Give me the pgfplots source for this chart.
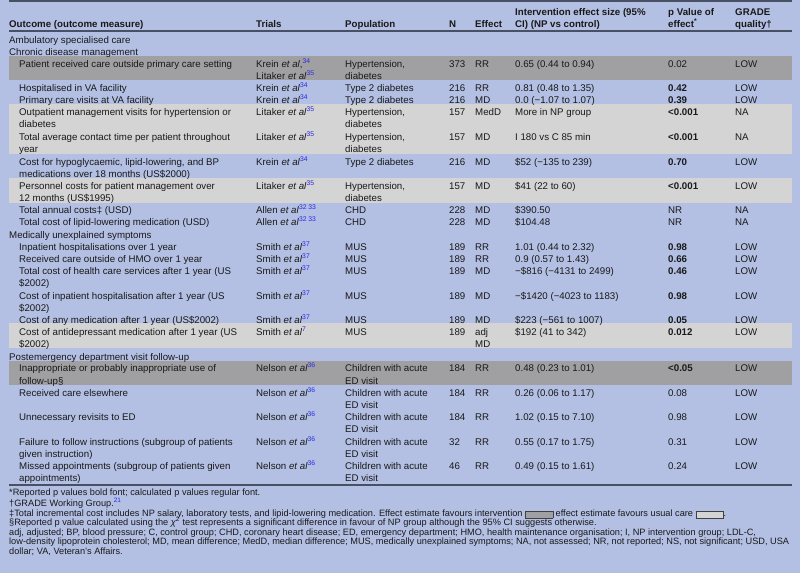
\documentclass[border=0pt]{standalone}
\usepackage{pgfplots}
\pgfplotsset{compat=1.18}
\usepackage{fontspec}
\setmainfont{Liberation Sans}
\definecolor{bg}{RGB}{179,192,227}
\definecolor{darkband}{RGB}{160,160,162}
\definecolor{lightband}{RGB}{212,212,212}
\definecolor{rulec}{RGB}{72,80,102}
\definecolor{txt}{RGB}{25,25,25}
\definecolor{refblue}{RGB}{40,40,230}
\newcommand{\bodyf}{\fontsize{9.7}{12}\selectfont}
\newcommand{\footf}{\fontsize{9.2}{10}\selectfont}
\newcommand{\ea}{\textit{et al}}
\newcommand{\rf}[1]{\textsuperscript{\textcolor{refblue}{#1}}}
\newcommand{\kbox}[1]{\raisebox{-1.5pt}{\setlength{\fboxsep}{0pt}\setlength{\fboxrule}{0.5pt}\fcolorbox{black!75}{#1}{\rule{0pt}{6.5pt}\rule{27pt}{0pt}}}}
\newcommand{\T}[3]{\node[anchor=base west,inner sep=0pt,font=\bodyf,text=txt] at (axis cs:#1,#2) {#3};}
\newcommand{\B}[3]{\node[anchor=base west,inner sep=0pt,font=\bodyf\bfseries,text=txt] at (axis cs:#1,#2) {#3};}
\newcommand{\F}[2]{\node[anchor=base west,inner sep=0pt,font=\footf,text=txt] at (axis cs:9,#1) {#2};}
\newcommand{\R}[9]{\T{19}{#1}{#2}\T{256}{#1}{#3}\T{345}{#1}{#4}\T{449}{#1}{#5}\T{475}{#1}{#6}\T{515}{#1}{#7}\T{668}{#1}{#8}\T{735}{#1}{#9}}
\begin{document}
\begin{tikzpicture}
\begin{axis}[width=800pt,height=573pt,scale only axis,xmin=0,xmax=800,ymin=0,ymax=573,
  y dir=reverse,hide axis,clip=false,no markers]
% background
\addplot[fill=bg,draw=none] coordinates {(0,0) (800,0) (800,573) (0,573)} --cycle;
% bands
\addplot[fill=darkband,draw=none] coordinates {(9,56) (792,56) (792,80) (9,80)} --cycle;
\addplot[fill=lightband,draw=none] coordinates {(9,104) (792,104) (792,154) (9,154)} --cycle;
\addplot[fill=lightband,draw=none] coordinates {(9,178) (792,178) (792,203) (9,203)} --cycle;
\addplot[fill=lightband,draw=none] coordinates {(9,323) (792,323) (792,348) (9,348)} --cycle;
\addplot[fill=darkband,draw=none] coordinates {(9,361) (792,361) (792,384.5) (9,384.5)} --cycle;
% rules
\addplot[rulec,line width=1.4pt] coordinates {(9,1) (792,1)};
\addplot[rulec,line width=1.2pt] coordinates {(9,31) (792,31)};
\addplot[rulec,line width=1.4pt] coordinates {(9,485) (792,485)};
% header
\B{9}{27}{Outcome (outcome measure)}
\B{256}{27}{Trials}
\B{345}{27}{Population}
\B{449}{27}{N}
\B{475}{27}{Effect}
\B{515}{15}{Intervention effect size (95\%}
\B{515}{27}{CI) (NP vs control)}
\B{668}{15}{p Value of}
\B{668}{27}{effect\textsuperscript{*}}
\B{735}{15}{GRADE}
\B{735}{27}{quality†}
% body
\T{9}{43.5}{Ambulatory specialised care}
\T{9}{55.5}{Chronic disease management}
\R{67.5}{Patient received care outside primary care setting}{Krein \ea,\rf{34}}{Hypertension,}{373}{RR}{0.65 (0.44 to 0.94)}{0.02}{LOW}
\T{256}{79.5}{Litaker \ea\rf{35}}\T{345}{79.5}{diabetes}
\R{91.5}{Hospitalised in VA facility}{Krein \ea\rf{34}}{Type 2 diabetes}{216}{RR}{0.81 (0.48 to 1.35)}{\textbf{0.42}}{LOW}
\R{103.5}{Primary care visits at VA facility}{Krein \ea\rf{34}}{Type 2 diabetes}{216}{MD}{0.0 (−1.07 to 1.07)}{\textbf{0.39}}{LOW}
\R{115.5}{Outpatient management visits for hypertension or}{Litaker \ea\rf{35}}{Hypertension,}{157}{MedD}{More in NP group}{\textbf{<0.001}}{NA}
\T{19}{127.5}{diabetes}\T{345}{127.5}{diabetes}
\R{140.5}{Total average contact time per patient throughout}{Litaker \ea\rf{35}}{Hypertension,}{157}{MD}{I 180 vs C 85 min}{\textbf{<0.001}}{NA}
\T{19}{152.5}{year}\T{345}{152.5}{diabetes}
\R{165.5}{Cost for hypoglycaemic, lipid-lowering, and BP}{Krein \ea\rf{34}}{Type 2 diabetes}{216}{MD}{\$52 (−135 to 239)}{\textbf{0.70}}{LOW}
\T{19}{177.5}{medications over 18 months (US\$2000)}
\R{189.5}{Personnel costs for patient management over}{Litaker \ea\rf{35}}{Hypertension,}{157}{MD}{\$41 (22 to 60)}{\textbf{<0.001}}{LOW}
\T{19}{201.5}{12 months (US\$1995)}\T{345}{201.5}{diabetes}
\R{213.5}{Total annual costs‡ (USD)}{Allen \ea\rf{32 33}}{CHD}{228}{MD}{\$390.50}{NR}{NA}
\R{225.5}{Total cost of lipid-lowering medication (USD)}{Allen \ea\rf{32 33}}{CHD}{228}{MD}{\$104.48}{NR}{NA}
\T{9}{238.5}{Medically unexplained symptoms}
\R{250.5}{Inpatient hospitalisations over 1 year}{Smith \ea\rf{37}}{MUS}{189}{RR}{1.01 (0.44 to 2.32)}{\textbf{0.98}}{LOW}
\R{262.5}{Received care outside of HMO over 1 year}{Smith \ea\rf{37}}{MUS}{189}{RR}{0.9 (0.57 to 1.43)}{\textbf{0.66}}{LOW}
\R{274.5}{Total cost of health care services after 1 year (US}{Smith \ea\rf{37}}{MUS}{189}{MD}{−\$816 (−4131 to 2499)}{\textbf{0.46}}{LOW}
\T{19}{286.5}{\$2002)}
\R{299.5}{Cost of inpatient hospitalisation after 1 year (US}{Smith \ea\rf{37}}{MUS}{189}{MD}{−\$1420 (−4023 to 1183)}{\textbf{0.98}}{LOW}
\T{19}{311.5}{\$2002)}
\R{323.5}{Cost of any medication after 1 year (US\$2002)}{Smith \ea\rf{37}}{MUS}{189}{MD}{\$223 (−561 to 1007)}{\textbf{0.05}}{LOW}
\R{335.5}{Cost of antidepressant medication after 1 year (US}{Smith \ea\rf{7}}{MUS}{189}{adj}{\$192 (41 to 342)}{\textbf{0.012}}{LOW}
\T{19}{347.5}{\$2002)}\T{475}{347.5}{MD}
\T{9}{360.5}{Postemergency department visit follow-up}
\R{371.5}{Inappropriate or probably inappropriate use of}{Nelson \ea\rf{36}}{Children with acute}{184}{RR}{0.48 (0.23 to 1.01)}{\textbf{<0.05}}{LOW}
\T{19}{384}{follow-up§}\T{345}{384}{ED visit}
\R{396.5}{Received care elsewhere}{Nelson \ea\rf{36}}{Children with acute}{184}{RR}{0.26 (0.06 to 1.17)}{0.08}{LOW}
\T{345}{408.5}{ED visit}
\R{420.5}{Unnecessary revisits to ED}{Nelson \ea\rf{36}}{Children with acute}{184}{RR}{1.02 (0.15 to 7.10)}{0.98}{LOW}
\T{345}{432.5}{ED visit}
\R{445.5}{Failure to follow instructions (subgroup of patients}{Nelson \ea\rf{36}}{Children with acute}{32}{RR}{0.55 (0.17 to 1.75)}{0.31}{LOW}
\T{19}{457}{given instruction)}\T{345}{457}{ED visit}
\R{469.5}{Missed appointments (subgroup of patients given}{Nelson \ea\rf{36}}{Children with acute}{46}{RR}{0.49 (0.15 to 1.61)}{0.24}{LOW}
\T{19}{481.5}{appointments)}\T{345}{481.5}{ED visit}
% footnotes
\F{495}{*Reported p values bold font; calculated p values regular font.}
\F{506}{†GRADE Working Group.\rf{21}}
\F{516}{‡Total incremental cost includes NP salary, laboratory tests, and lipid-lowering medication. Effect estimate favours intervention \kbox{darkband} effect estimate favours usual care \kbox{lightband}.}
\F{525.5}{§Reported p value calculated using the \textit{χ}\textsuperscript{2} test represents a significant difference in favour of NP group although the 95\% CI suggests otherwise.}
\F{535}{adj, adjusted; BP, blood pressure; C, control group; CHD, coronary heart disease; ED, emergency department; HMO, health maintenance organisation; I, NP intervention group; LDL-C,}
\F{544.5}{low-density lipoprotein cholesterol; MD, mean difference; MedD, median difference; MUS, medically unexplained symptoms; NA, not assessed; NR, not reported; NS, not significant; USD, USA}
\F{554}{dollar; VA, Veteran's Affairs.}
\end{axis}
\end{tikzpicture}
\end{document}
